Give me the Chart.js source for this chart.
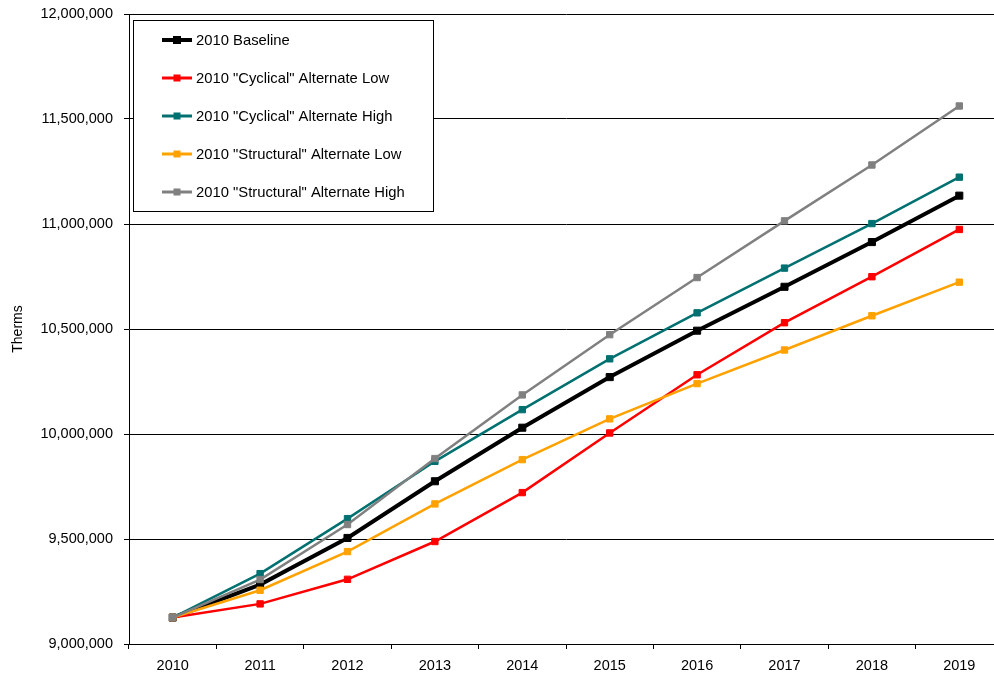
<!DOCTYPE html>
<html><head><meta charset="utf-8">
<script src="https://cdn.jsdelivr.net/npm/chart.js@4/dist/chart.umd.min.js"></script>
<style>
html,body{margin:0;padding:0;overflow:hidden;background:#fff;width:994px;height:677px}
#wrap{position:absolute;left:0;top:0;width:1010px;height:677px}
</style>
</head><body><div id="wrap"><canvas id="c" width="1010" height="677"></canvas></div>
<script>
const years = ['2010','2011','2012','2013','2014','2015','2016','2017','2018','2019'];
const baseline        = [9126000, 9283000, 9505000, 9775000, 10030000, 10271000, 10492000, 10701000, 10914000, 11135000];
const cyclicalLow     = [9126000, 9191000, 9308000, 9488000, 9721000, 10005000, 10282000, 10530000, 10749000, 10974000];
const cyclicalHigh    = [9126000, 9335000, 9597000, 9870000, 10116000, 10358000, 10577000, 10790000, 11002000, 11223000];
const structuralLow   = [9126000, 9256000, 9440000, 9667000, 9878000, 10072000, 10240000, 10400000, 10563000, 10723000];
const structuralHigh  = [9126000, 9307000, 9569000, 9883000, 10186000, 10473000, 10745000, 11015000, 11281000, 11562000];
const seriesNames = ['2010 Baseline','2010 "Cyclical" Alternate Low','2010 "Cyclical" Alternate High','2010 "Structural" Alternate Low','2010 "Structural" Alternate High'];
const yTicks = [9000000, 9500000, 10000000, 10500000, 11000000, 11500000, 12000000];

const FONT = '"Liberation Sans", Arial, sans-serif';

function ds(label, data, color, width, radius, order){
  return {label, data, borderColor: color, backgroundColor: color, borderWidth: width,
    pointStyle: 'rect', pointRadius: radius, pointHoverRadius: radius, pointBorderWidth: 1,
    pointBackgroundColor: color, pointBorderColor: color, tension: 0, fill: false, order};
}

const boxLegend = {
  id: 'boxLegend',
  afterDraw(chart){
    const ctx = chart.ctx, a = chart.chartArea;
    const x0 = a.left + 4, y0 = a.top + 6, w = 300, h = 191;
    ctx.save();
    ctx.fillStyle = '#fff';
    ctx.fillRect(x0, y0, w, h);
    ctx.strokeStyle = '#000';
    ctx.lineWidth = 1;
    ctx.strokeRect(x0 + 0.5, y0 + 0.5, w, h);
    chart.data.datasets.forEach((d, i) => {
      const cy = y0 + 20 + i * 38;
      ctx.strokeStyle = d.borderColor;
      ctx.lineWidth = i === 0 ? 4 : 3;
      ctx.beginPath(); ctx.moveTo(x0 + 29, cy); ctx.lineTo(x0 + 59, cy); ctx.stroke();
      ctx.fillStyle = d.borderColor;
      const s = i === 0 ? 8 : 7;
      ctx.fillRect(x0 + 44 - s / 2, cy - s / 2, s, s);
      ctx.fillStyle = '#000';
      ctx.font = '14.8px ' + FONT;
      ctx.textBaseline = 'middle';
      ctx.textAlign = 'left';
      ctx.fillText(d.label, x0 + 63, cy + 1);
    });
    ctx.restore();
  }
};

new Chart(document.getElementById('c'), {
  type: 'line',
  data: {
    labels: years,
    datasets: [
      ds(seriesNames[0], baseline, '#000000', 4, 5, 5),
      ds(seriesNames[1], cyclicalLow, '#FF0000', 2.5, 4.5, 4),
      ds(seriesNames[2], cyclicalHigh, '#007070', 2.5, 4.5, 3),
      ds(seriesNames[3], structuralLow, '#FFA200', 2.5, 4.5, 2),
      ds(seriesNames[4], structuralHigh, '#808080', 2.5, 4.5, 1)
    ]
  },
  options: {
    responsive: false,
    animation: false,
    devicePixelRatio: 1,
    layout: {padding: {top: 14, left: 0, right: 7, bottom: 0}},
    plugins: {legend: {display: false}, tooltip: {enabled: false}},
    scales: {
      x: {
        offset: true,
        grid: {offset: true, drawOnChartArea: false, drawTicks: true, tickLength: 5, color: '#000', lineWidth: 1},
        border: {display: true, color: '#000', width: 1},
        ticks: {color: '#000', font: {family: FONT, size: 14.5}, padding: 8, maxRotation: 0, autoSkip: false},
        afterFit(scale){ scale.height = 33; }
      },
      y: {
        min: yTicks[0], max: yTicks[yTicks.length - 1],
        afterBuildTicks(scale){ scale.ticks = yTicks.map(v => ({value: v})); },
        grid: {color: '#000', lineWidth: 1, drawTicks: true, tickLength: 5},
        border: {display: true, color: '#000', width: 1},
        ticks: {color: '#000', font: {family: FONT, size: 14.5}, padding: 11,
          callback: v => Number(v).toLocaleString('en-US')},
        title: {display: true, text: 'Therms', color: '#000', font: {family: FONT, size: 14}, padding: {top: 10, bottom: 0}},
        afterFit(scale){ scale.width = 129; scale.paddingTop = 0; scale.paddingBottom = 0; }
      }
    }
  },
  plugins: [boxLegend]
});
</script>
</body></html>
